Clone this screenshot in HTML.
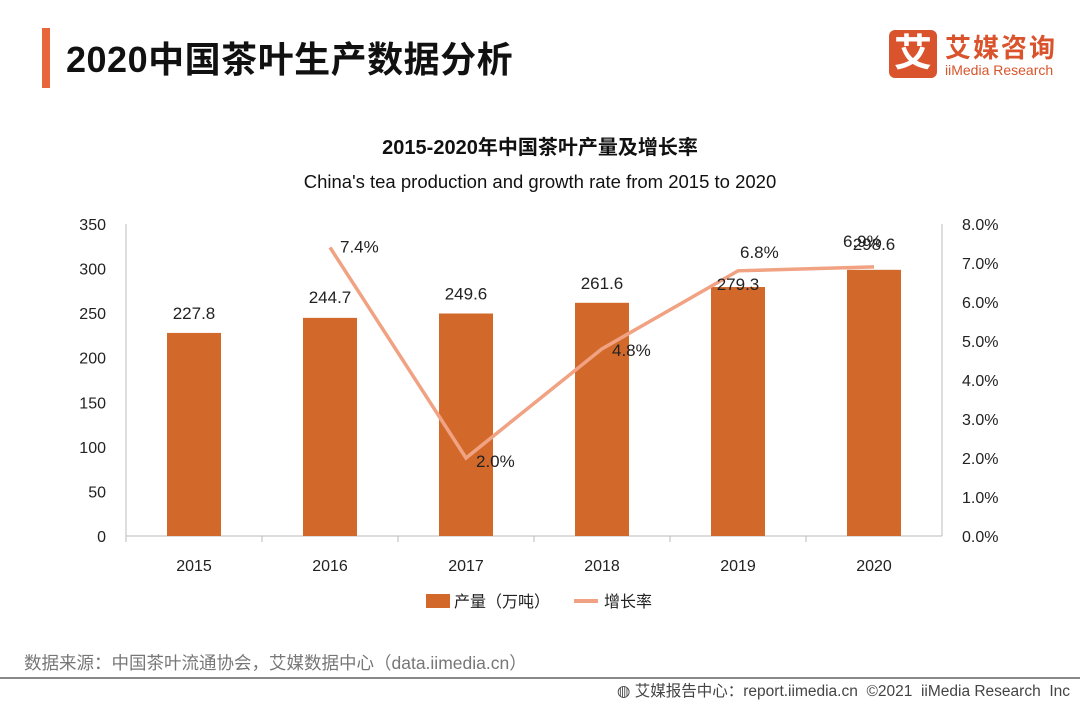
<!DOCTYPE html>
<html><head><meta charset="utf-8">
<style>
body{margin:0;width:1080px;height:702px;background:#fff;overflow:hidden;font-family:"Liberation Sans","Noto Sans CJK SC",sans-serif;position:relative}
.abs{position:absolute}
</style></head><body>
<div class="abs" style="left:42px;top:28px;width:8px;height:60px;background:#e8663a"></div>
<div class="abs" style="left:66px;top:31px;font-size:36px;font-weight:bold;color:#111;letter-spacing:0.5px">2020中国茶叶生产数据分析</div>
<div class="abs" style="left:889px;top:30px;width:170px;height:50px">
 <div class="abs" style="left:0;top:0;width:48px;height:48px;background:#d9542c;border-radius:6px;color:#fff;font-size:38px;font-weight:bold;text-align:center;line-height:48px">艾</div>
 <div class="abs" style="left:56px;top:-2px;font-size:26px;font-weight:bold;color:#d9542c;letter-spacing:2px">艾媒咨询</div>
 <div class="abs" style="left:56px;top:32px;font-size:14px;color:#d9542c">iiMedia Research</div>
</div>
<svg class="abs" style="left:0;top:0" width="1080" height="702">
<g id="g"></g>
</svg>
<div class="abs" style="left:24px;top:650px;font-size:17.5px;color:#777">数据来源：中国茶叶流通协会，艾媒数据中心（data.iimedia.cn）</div>
<div class="abs" style="left:0;top:677px;width:1080px;height:2px;background:#888"></div>
<div class="abs" style="right:10px;top:679px;font-size:15.5px;color:#444">◍ 艾媒报告中心：report.iimedia.cn &nbsp;©2021 &nbsp;iiMedia Research &nbsp;Inc</div>
<script>
const years=['2015','2016','2017','2018','2019','2020'];
const production=[227.8,244.7,249.6,261.6,279.3,298.6];
const growth=[null,7.4,2.0,4.8,6.8,6.9];
const leftTicks=[0,50,100,150,200,250,300,350];
const rightTicks=[0,1,2,3,4,5,6,7,8];
const NS='http://www.w3.org/2000/svg';
const g=document.getElementById('g');
const x0=126,x1=942,yb=536,yt=224;
const yL=v=>yb-(v/350)*(yb-yt);
const yR=v=>yb-(v/8)*(yb-yt);
const step=(x1-x0)/years.length;
const xc=i=>x0+step*(i+0.5);
const barLabelDy=[-14,-15,-14,-14,3,-20];
const growthLabelDx=[0,10,10,10,2,-31];
const growthLabelDy=[0,5,9,7,-13,-20];
function el(t,a,txt){const e=document.createElementNS(NS,t);for(const k in a)e.setAttribute(k,a[k]);if(txt!=null)e.textContent=txt;g.appendChild(e);return e;}
const F='Liberation Sans, Noto Sans CJK SC, sans-serif';
let e;
e=el('text',{x:540,y:154,'text-anchor':'middle','font-size':20,'font-weight':'bold',fill:'#111','font-family':F},'2015-2020年中国茶叶产量及增长率');

e=el('text',{x:540,y:188,'text-anchor':'middle','font-size':18.5,fill:'#111','font-family':F},"China's tea production and growth rate from 2015 to 2020");

leftTicks.forEach(v=>{e=el('text',{x:106,y:yL(v)+6,'text-anchor':'end','font-size':16,fill:'#222','font-family':F},String(v));
});
rightTicks.forEach(v=>{e=el('text',{x:962,y:yR(v)+6,'font-size':16,fill:'#222','font-family':F},v.toFixed(1)+'%');
});
e=el('line',{x1:126,y1:224,x2:126,y2:yb,stroke:'#bbb'});
e=el('line',{x1:942,y1:224,x2:942,y2:yb,stroke:'#bbb'});
e=el('line',{x1:x0,y1:yb,x2:x1,y2:yb,stroke:'#bbb'});
years.forEach((y,i)=>{
 e=el('line',{x1:x0+step*i,y1:yb,x2:x0+step*i,y2:yb+6,stroke:'#bbb'});
 e=el('rect',{x:xc(i)-27,y:yL(production[i]),width:54,height:yb-yL(production[i]),fill:'#d2692a'});
 
});
let pts=[];growth.forEach((v,i)=>{if(v!=null)pts.push(xc(i)+','+yR(v));});
e=el('polyline',{points:pts.join(' '),fill:'none',stroke:'#f0a283','stroke-width':3.5});

years.forEach((y,i)=>{
 e=el('text',{x:xc(i),y:yL(production[i])+barLabelDy[i],'text-anchor':'middle','font-size':17,fill:'#222','font-family':F},production[i].toFixed(1));
 
 e=el('text',{x:xc(i),y:571,'text-anchor':'middle','font-size':16,fill:'#222','font-family':F},y);
 
});
growth.forEach((v,i)=>{if(v==null)return;
 e=el('text',{x:xc(i)+growthLabelDx[i],y:yR(v)+growthLabelDy[i],'font-size':17,fill:'#222','font-family':F},v.toFixed(1)+'%');
 });
e=el('rect',{x:426,y:594,width:24,height:14,fill:'#d2692a'});
e=el('text',{x:454,y:607,'font-size':16,fill:'#222','font-family':F},'产量（万吨）');
e=el('line',{x1:574,y1:601,x2:598,y2:601,stroke:'#f0a283','stroke-width':4});
e=el('text',{x:604,y:607,'font-size':16,fill:'#222','font-family':F},'增长率');
</script>
</body></html>
